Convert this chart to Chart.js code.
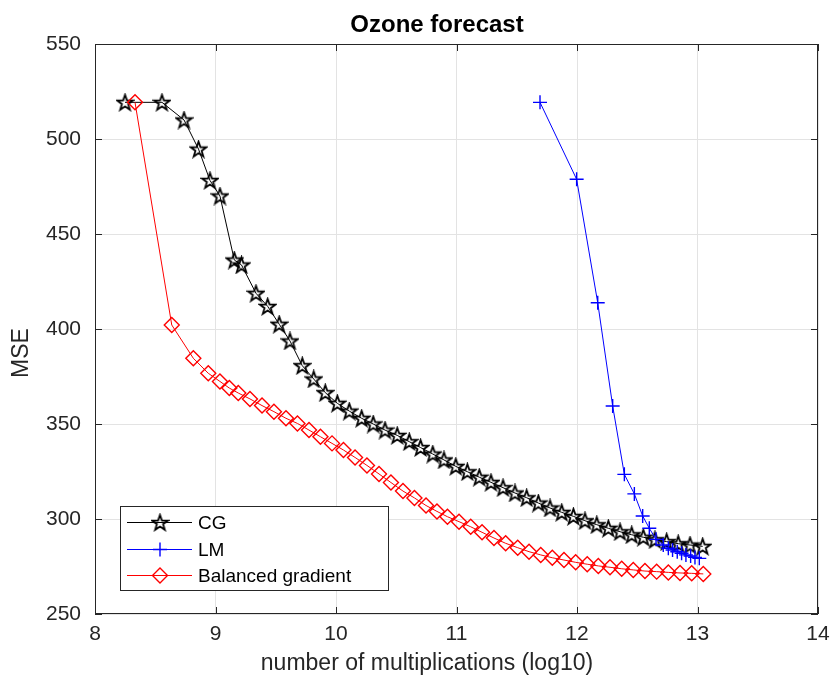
<!DOCTYPE html>
<html>
<head>
<meta charset="utf-8">
<script src="https://cdn.jsdelivr.net/npm/chart.js@4.4.0/dist/chart.umd.min.js"></script>
<style>
  html, body { margin: 0; padding: 0; background: #ffffff; }
</style>
</head>
<body>
<canvas id="chart" width="830" height="681"></canvas>
<script>
// Training curves: MSE against log10 of the number of multiplications.
const cgX = [8.249, 8.556, 8.739, 8.859, 8.954, 9.037, 9.156, 9.216, 9.336, 9.433,
             9.529, 9.618, 9.720, 9.815, 9.911, 10.011, 10.110, 10.213, 10.309, 10.407,
             10.508, 10.608, 10.702, 10.803, 10.896, 10.994, 11.090, 11.189, 11.286, 11.386,
             11.485, 11.582, 11.679, 11.776, 11.873, 11.970, 12.066, 12.164, 12.260, 12.357,
             12.454, 12.550, 12.647, 12.744, 12.840, 12.938, 13.043];
const cgY = [519.3, 519.3, 510.0, 494.7, 478.2, 470.0, 436.3, 433.7, 418.8, 411.9,
             402.5, 393.7, 380.7, 373.7, 366.5, 360.9, 356.8, 353.0, 350.0, 346.8,
             344.0, 340.7, 337.6, 334.2, 331.1, 327.7, 324.9, 322.0, 319.3, 316.5,
             313.7, 311.2, 308.4, 305.8, 303.5, 301.4, 299.1, 297.0, 295.1, 293.3,
             291.7, 290.4, 289.1, 288.1, 287.0, 286.3, 285.6];

const lmX = [11.693, 11.997, 12.172, 12.296, 12.393, 12.476, 12.545, 12.600, 12.656,
             12.716, 12.758, 12.793, 12.832, 12.868, 12.904, 12.943, 12.979, 13.015];
const lmY = [519.3, 478.8, 413.8, 359.5, 323.5, 313.2, 301.6, 295.1, 289.3,
             286.3, 284.6, 283.7, 282.8, 282.0, 281.1, 280.5, 279.8, 279.3];

const bgX = [8.332, 8.637, 8.816, 8.940, 9.037, 9.115, 9.189, 9.286, 9.386, 9.485,
             9.585, 9.680, 9.776, 9.871, 9.967, 10.062, 10.158, 10.257, 10.357, 10.456,
             10.556, 10.651, 10.747, 10.838, 10.925, 11.021, 11.118, 11.212, 11.311, 11.408,
             11.508, 11.602, 11.699, 11.795, 11.892, 11.989, 12.085, 12.177, 12.274, 12.371,
             12.467, 12.564, 12.661, 12.758, 12.855, 12.952, 13.048];
const bgY = [519.3, 402.1, 384.6, 376.7, 372.4, 368.9, 366.3, 363.2, 359.7, 356.5,
             353.0, 350.3, 346.8, 343.3, 339.8, 336.3, 332.4, 328.2, 323.7, 319.2,
             314.7, 311.1, 307.1, 304.0, 301.2, 298.6, 295.9, 293.0, 290.0, 287.2,
             284.9, 282.8, 281.1, 279.6, 278.4, 277.2, 276.2, 275.3, 274.6, 273.8,
             273.2, 272.6, 272.3, 271.9, 271.6, 271.4, 271.1];

const seriesNames = ['CG', 'LM', 'Balanced gradient'];
const xTicksRange = [8, 14];
const yTicksRange = [250, 550];

const FONT = '"Liberation Sans", Arial, Helvetica, sans-serif';
const TEXT = '#262626';

// five-pointed star outline used as the CG marker
function pentagram(size, color) {
  const c = document.createElement('canvas');
  c.width = size; c.height = size;
  const g = c.getContext('2d');
  const cx = size / 2, cy = size / 2 + 0.7;
  const ro = size / 2 - 1.3, ri = ro * 0.40;
  g.beginPath();
  for (let i = 0; i < 10; i++) {
    const r = i % 2 === 0 ? ro : ri;
    const a = -Math.PI / 2 + i * Math.PI / 5;
    const px = cx + r * Math.cos(a), py = cy + r * Math.sin(a);
    if (i === 0) g.moveTo(px, py); else g.lineTo(px, py);
  }
  g.closePath();
  g.strokeStyle = color;
  g.lineWidth = 1.8;
  g.lineJoin = 'miter';
  g.stroke();
  return c;
}
const starMarker = pentagram(19, '#000000');

const toPoints = (xs, ys) => xs.map((v, i) => ({ x: v, y: ys[i] }));

const datasets = [
  {
    label: seriesNames[0], data: toPoints(cgX, cgY),
    borderColor: '#000000', borderWidth: 1, showLine: true,
    pointStyle: starMarker, pointRadius: 8, pointBorderColor: '#000000',
    pointBackgroundColor: 'rgba(0,0,0,0)', order: 3
  },
  {
    label: seriesNames[1], data: toPoints(lmX, lmY),
    borderColor: '#0000ff', borderWidth: 1, showLine: true,
    pointStyle: 'cross', pointRadius: 7, pointBorderWidth: 1.4,
    pointBorderColor: '#0000ff', pointBackgroundColor: 'rgba(0,0,0,0)', order: 2
  },
  {
    label: seriesNames[2], data: toPoints(bgX, bgY),
    borderColor: '#ff0000', borderWidth: 1, showLine: true,
    pointStyle: 'rectRot', pointRadius: 7.5, pointBorderWidth: 1.4,
    pointBorderColor: '#ff0000', pointBackgroundColor: 'rgba(0,0,0,0)', order: 1
  }
];

// axes box with inward tick marks on every side
const frame = {
  id: 'frame',
  afterDatasetsDraw(chart) {
    const { ctx, chartArea: a, scales: { x, y } } = chart;
    const L = 7;
    ctx.save();
    ctx.strokeStyle = TEXT;
    ctx.lineWidth = 1;
    ctx.beginPath();
    x.ticks.forEach(t => {
      const px = Math.round(x.getPixelForValue(t.value)) + 0.5;
      ctx.moveTo(px, a.bottom); ctx.lineTo(px, a.bottom - L);
      ctx.moveTo(px, a.top); ctx.lineTo(px, a.top + L);
    });
    y.ticks.forEach(t => {
      const py = Math.round(y.getPixelForValue(t.value)) + 0.5;
      ctx.moveTo(a.left, py); ctx.lineTo(a.left + L, py);
      ctx.moveTo(a.right, py); ctx.lineTo(a.right - L, py);
    });
    ctx.stroke();
    ctx.strokeRect(Math.round(a.left) + 0.5, Math.round(a.top) + 0.5,
                   Math.round(a.width) - 1, Math.round(a.height) - 1);
    ctx.restore();
  }
};

// title, axis labels and the boxed legend
const annotations = {
  id: 'annotations',
  afterDraw(chart) {
    const { ctx, chartArea: a } = chart;
    ctx.save();
    ctx.fillStyle = '#000000';
    ctx.textAlign = 'center';
    ctx.textBaseline = 'middle';
    ctx.font = 'bold 24px ' + FONT;
    ctx.fillText('Ozone forecast', 437, 25);
    ctx.fillStyle = TEXT;
    ctx.font = '23px ' + FONT;
    ctx.fillText('number of multiplications (log10)', 427, 664);
    ctx.save();
    ctx.translate(22, 353);
    ctx.rotate(-Math.PI / 2);
    ctx.fillText('MSE', 0, 0);
    ctx.restore();

    // legend
    const bx = a.left + 25, bw = 268, bh = 84, by = a.bottom - 24 - bh;
    ctx.fillStyle = '#ffffff';
    ctx.fillRect(bx, by, bw, bh);
    ctx.strokeStyle = TEXT;
    ctx.lineWidth = 1;
    ctx.strokeRect(Math.round(bx) + 0.5, Math.round(by) + 0.5, bw, bh);
    const rows = [16, 43, 69];
    const colors = ['#000000', '#0000ff', '#ff0000'];
    rows.forEach((dy, i) => {
      const cy = Math.round(by + dy) + 0.5;
      const x0 = bx + 7, x1 = bx + 72, mx = bx + 40;
      ctx.strokeStyle = colors[i];
      ctx.lineWidth = 1;
      ctx.beginPath(); ctx.moveTo(x0, cy); ctx.lineTo(x1, cy); ctx.stroke();
      if (i === 0) {
        ctx.drawImage(starMarker, mx - starMarker.width / 2, cy - starMarker.height / 2);
      } else if (i === 1) {
        ctx.lineWidth = 1.4;
        ctx.beginPath();
        ctx.moveTo(mx - 7, cy); ctx.lineTo(mx + 7, cy);
        ctx.moveTo(mx, cy - 7); ctx.lineTo(mx, cy + 7);
        ctx.stroke();
      } else {
        ctx.lineWidth = 1.4;
        ctx.beginPath();
        ctx.moveTo(mx, cy - 7.5); ctx.lineTo(mx + 7.5, cy);
        ctx.lineTo(mx, cy + 7.5); ctx.lineTo(mx - 7.5, cy);
        ctx.closePath(); ctx.stroke();
      }
      ctx.fillStyle = '#000000';
      ctx.textAlign = 'left';
      ctx.font = '19px ' + FONT;
      ctx.fillText(seriesNames[i], bx + 78, cy + 1);
    });
    ctx.restore();
  }
};

new Chart(document.getElementById('chart'), {
  type: 'scatter',
  data: { datasets },
  options: {
    responsive: false,
    animation: false,
    devicePixelRatio: 1,
    layout: { padding: { top: 44, right: 12, bottom: 0, left: 0 } },
    plugins: { legend: { display: false }, title: { display: false }, tooltip: { enabled: false } },
    elements: { line: { tension: 0 } },
    scales: {
      x: {
        type: 'linear', min: xTicksRange[0], max: xTicksRange[1],
        ticks: { stepSize: 1, color: TEXT, font: { family: FONT, size: 21 }, padding: 8, maxRotation: 0 },
        grid: { color: '#e3e3e3', lineWidth: 1, drawTicks: false },
        border: { display: false },
        afterFit(s) { s.height = 67; s.paddingLeft = 0; s.paddingRight = 0; }
      },
      y: {
        type: 'linear', min: yTicksRange[0], max: yTicksRange[1],
        ticks: { stepSize: 50, color: TEXT, font: { family: FONT, size: 21 }, padding: 14 },
        grid: { color: '#e3e3e3', lineWidth: 1, drawTicks: false },
        border: { display: false },
        afterFit(s) { s.width = 95; s.paddingTop = 0; s.paddingBottom = 0; }
      }
    }
  },
  plugins: [frame, annotations]
});
</script>
</body>
</html>
